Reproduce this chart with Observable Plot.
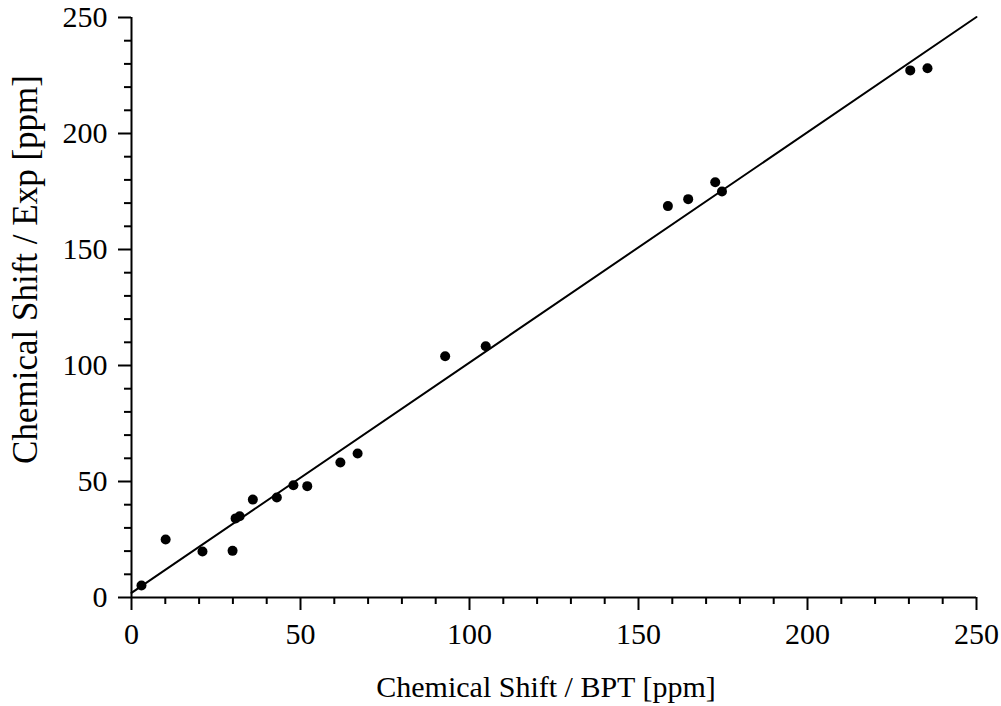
<!DOCTYPE html>
<html>
<head>
<meta charset="utf-8">
<script src="https://cdn.jsdelivr.net/npm/d3@7"></script>
<script src="https://cdn.jsdelivr.net/npm/@observablehq/plot@0.6"></script>
<style>
  html, body { margin: 0; padding: 0; background: #fff; }
  #chart svg { display: block; }
</style>
</head>
<body>
<div id="chart"></div>
<script>
// Data
const bptShift = [2.95, 10.1, 21.0, 29.9, 30.8, 32.0, 35.9, 43.0, 47.9, 52.0, 61.8, 66.9,
                  92.8, 104.8, 158.7, 164.7, 172.7, 174.7, 230.4, 235.5];
const expShift = [5.2, 25.0, 19.8, 20.1, 34.1, 35.0, 42.2, 43.1, 48.4, 48.0, 58.2, 62.1,
                  104.0, 108.3, 168.7, 171.7, 179.0, 175.0, 227.2, 228.1];
const fitX = [0, 250];
const fitY = [2.0, 250.2];
const majorTicks = [0, 50, 100, 150, 200, 250];
const minorTicks = d3.range(0, 251, 10).filter(v => v % 50 !== 0);
const xLabel = "Chemical Shift / BPT [ppm]";
const yLabel = "Chemical Shift / Exp [ppm]";

const points = bptShift.map((x, i) => ({x, y: expShift[i]}));
const fit = fitX.map((x, i) => ({x, y: fitY[i]}));

const font = "'Liberation Serif', 'Times New Roman', Times, serif";

const chart = Plot.plot({
  width: 1001,
  height: 706,
  marginLeft: 131,
  marginRight: 25,
  marginTop: 17,
  marginBottom: 109,
  style: {fontFamily: font, background: "#fff", color: "#000"},
  x: {domain: [0, 250]},
  y: {domain: [0, 250]},
  marks: [
    Plot.axisX({ticks: minorTicks, tickSize: 7, strokeWidth: 2, text: null, label: null}),
    Plot.axisX({ticks: majorTicks, tickSize: 13, strokeWidth: 2, tickPadding: 12, fontSize: 30, label: null}),
    Plot.axisY({ticks: minorTicks, tickSize: 7, strokeWidth: 2, text: null, label: null}),
    Plot.axisY({ticks: majorTicks, tickSize: 13, strokeWidth: 2, tickPadding: 11, fontSize: 30, label: null}),
    Plot.ruleY([0], {stroke: "#000", strokeWidth: 2}),
    Plot.ruleX([0], {stroke: "#000", strokeWidth: 2}),
    Plot.line(fit, {x: "x", y: "y", stroke: "#000", strokeWidth: 2}),
    Plot.dot(points, {x: "x", y: "y", r: 5, fill: "#000", stroke: "none"}),
    Plot.text([xLabel], {frameAnchor: "bottom", dy: 90, dx: -8, fontSize: 30, lineAnchor: "middle", textAnchor: "middle", fill: "#000"}),
    Plot.text([yLabel], {frameAnchor: "left", dx: -106, dy: -38, rotate: -90, fontSize: 35, lineAnchor: "middle", textAnchor: "middle", fill: "#000"})
  ]
});
document.getElementById("chart").appendChild(chart);
</script>
</body>
</html>
